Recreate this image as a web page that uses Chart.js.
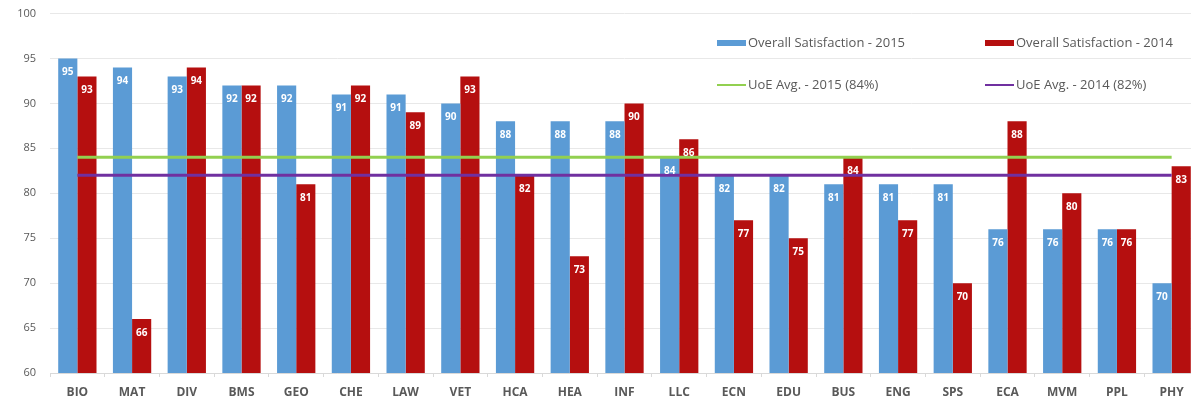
<!DOCTYPE html>
<html>
<head>
<meta charset="utf-8">
<script src="https://cdn.jsdelivr.net/npm/chart.js@4/dist/chart.umd.min.js"></script>
<style>
  html, body { margin: 0; padding: 0; background: #fff; overflow: hidden; }
  #wrap { position: relative; width: 1199px; height: 405px; }
</style>
</head>
<body>
<div id="wrap"><canvas id="chart"></canvas></div>
<script>
// School codes along the x axis
const schools = ['BIO', 'MAT', 'DIV', 'BMS', 'GEO', 'CHE', 'LAW', 'VET', 'HCA', 'HEA', 'INF',
                 'LLC', 'ECN', 'EDU', 'BUS', 'ENG', 'SPS', 'ECA', 'MVM', 'PPL', 'PHY'];

// Overall satisfaction (%) per school
const satisfaction2015 = [95, 94, 93, 92, 92, 91, 91, 90, 88, 88, 88, 84, 82, 82, 81, 81, 81, 76, 76, 76, 70];
const satisfaction2014 = [93, 66, 94, 92, 81, 92, 89, 93, 82, 73, 90, 86, 77, 75, 84, 77, 70, 88, 80, 76, 83];

// University-wide averages
const uoeAvg2015 = 84;
const uoeAvg2014 = 82;

// Value axis range and step
const yMin = 60;
const yMax = 100;
const yStep = 5;

const seriesLabels = [
  'Overall Satisfaction - 2015',
  'Overall Satisfaction - 2014',
  'UoE Avg. - 2015 (84%)',
  'UoE Avg. - 2014 (82%)'
];

const BLUE = '#5b9bd5';
const RED = '#b50f0f';
const GREEN = '#92d050';
const PURPLE = '#7030a0';
const TEXT = '#595959';
const FONT = '"Open Sans", "Liberation Sans", sans-serif';

// White value labels just inside the top of every bar
const barValueLabels = {
  id: 'barValueLabels',
  afterDatasetsDraw(chart) {
    const ctx = chart.ctx;
    ctx.save();
    ctx.fillStyle = '#ffffff';
    ctx.font = 'bold 10px ' + FONT;
    ctx.textAlign = 'center';
    ctx.textBaseline = 'middle';
    chart.data.datasets.forEach((ds, i) => {
      if (ds.type !== 'bar') return;
      const meta = chart.getDatasetMeta(i);
      meta.data.forEach((bar, j) => {
        ctx.fillText(String(ds.data[j]), bar.x, bar.y + 14);
      });
    });
    ctx.restore();
  }
};

// Two-column legend laid over the upper right of the plot
const gridLegend = {
  id: 'gridLegend',
  afterDraw(chart, args, opts) {
    const ctx = chart.ctx;
    ctx.save();
    ctx.font = '13px ' + FONT;
    ctx.textBaseline = 'middle';
    ctx.textAlign = 'left';
    chart.data.datasets.forEach((ds, i) => {
      const x = opts.columns[i % 2];
      const y = opts.rows[Math.floor(i / 2)];
      if (ds.type === 'bar') {
        ctx.fillStyle = ds.backgroundColor;
        ctx.fillRect(x, y - 3, opts.swatch, 6);
      } else {
        ctx.strokeStyle = ds.borderColor;
        ctx.lineWidth = 2;
        ctx.beginPath();
        ctx.moveTo(x, y);
        ctx.lineTo(x + opts.swatch, y);
        ctx.stroke();
      }
      ctx.fillStyle = TEXT;
      ctx.fillText(ds.label, x + opts.swatch + 2, y);
    });
    ctx.restore();
  }
};

new Chart(document.getElementById('chart'), {
  data: {
    labels: schools,
    datasets: [
      { type: 'bar', label: seriesLabels[0], data: satisfaction2015, backgroundColor: BLUE, order: 2 },
      { type: 'bar', label: seriesLabels[1], data: satisfaction2014, backgroundColor: RED, order: 2 },
      { type: 'line', label: seriesLabels[2], data: schools.map(() => uoeAvg2015), borderColor: GREEN,
        borderWidth: 3, pointRadius: 0, order: 1 },
      { type: 'line', label: seriesLabels[3], data: schools.map(() => uoeAvg2014), borderColor: PURPLE,
        borderWidth: 3, pointRadius: 0, order: 1 }
    ]
  },
  options: {
    responsive: true,
    maintainAspectRatio: false,
    animation: false,
    datasets: {
      bar: { categoryPercentage: 0.7, barPercentage: 1.0 }
    },
    layout: { padding: { top: 13.5, right: 0, left: 0, bottom: 0 } },
    plugins: {
      legend: { display: false },
      tooltip: { enabled: false },
      gridLegend: { columns: [717, 985], rows: [43, 85], swatch: 29 }
    },
    scales: {
      x: {
        offset: true,
        grid: { drawOnChartArea: false, drawTicks: true, tickLength: 4, color: '#d9d9d9', offset: true },
        border: { display: true, color: '#d9d9d9' },
        ticks: { color: TEXT, font: { family: FONT, size: 12, weight: 'bold' }, padding: 8, autoSkip: false, maxRotation: 0 },
        afterFit(scale) { scale.height = 32; }
      },
      y: {
        min: yMin,
        max: yMax,
        ticks: { stepSize: yStep, color: TEXT, font: { family: FONT, size: 11 }, padding: 14 },
        grid: { color: '#e8e8e8', drawTicks: false },
        border: { display: false },
        afterFit(scale) {
          scale.width = 50;
          scale.paddingTop = 0;
          scale.paddingBottom = 0;
        }
      }
    }
  },
  plugins: [barValueLabels, gridLegend]
});
</script>
</body>
</html>
